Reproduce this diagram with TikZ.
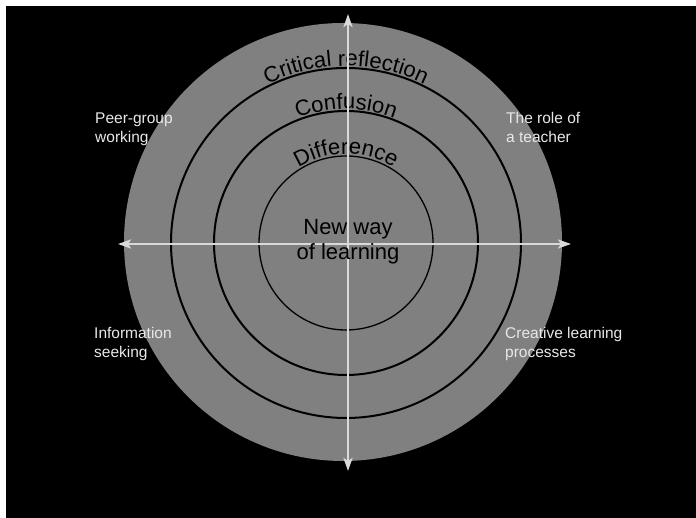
\documentclass[tikz,border=0pt]{standalone}
\usepackage{fontspec}
\setmainfont{Liberation Sans}
\usetikzlibrary{decorations.text, arrows.meta}
\definecolor{discgray}{HTML}{808080}
\definecolor{axisgray}{HTML}{D9D9D9}
\definecolor{labelwhite}{HTML}{E8E8E8}
\newcommand\myarcfont{\fontsize{22}{22}\selectfont}
\begin{document}
\begin{tikzpicture}[x=1pt,y=1pt,
  ring/.style={draw=black, line width=2pt},
  arclabel/.style={decorate, decoration={text along path, text format delimiters={|}{|},
      text={|\myarcfont|#1}, text align=center}},
  cornerlabel/.style={text=labelwhite, align=left, inner sep=0pt, anchor=north west,
      font=\fontsize{15.5}{19}\selectfont},
  centerlabel/.style={text=black, align=center, inner sep=0pt,
      font=\fontsize{22}{25}\selectfont},
  axis/.style={draw=axisgray, line width=2.5pt,
      {Stealth[length=13pt,width=9pt,inset=3pt]}-{Stealth[length=13pt,width=9pt,inset=3pt]}}
]
\useasboundingbox (0,0) rectangle (696,518);
\fill[white] (0,0) rectangle (696,518);
\fill[black] (6,0) rectangle (696,512);
\fill[discgray] (343,276) circle[radius=219];
\coordinate (c) at (346,275);
\draw[ring] (c) circle[radius=175];
\draw[ring] (c) circle[radius=132];
\draw[ring, line width=1.3pt] (c) circle[radius=87];
\path[arclabel={Critical reflection}] (c) ++(155:177) arc[start angle=155, end angle=25, radius=177];
\path[arclabel={Confusion}] (c) ++(155:134) arc[start angle=155, end angle=25, radius=134];
\path[arclabel={Difference}] (c) ++(155:89) arc[start angle=155, end angle=25, radius=89];
\coordinate (L) at (118,274);
\coordinate (R) at (571,274);
\coordinate (T) at (348,504);
\coordinate (B) at (348,47);
\draw[axis] (L) -- (R);
\draw[axis] (T) -- (B);
\node[centerlabel] (nw) at (348,276) {New way\\of learning};
\node[cornerlabel] (peer) at (95,405) {Peer-group\\working};
\node[cornerlabel] (teacher) at (506,406) {The role of\\a teacher};
\node[cornerlabel] (info) at (94,191) {Information\\seeking};
\node[cornerlabel] (creative) at (505,191) {Creative learning\\processes};
\end{tikzpicture}
\end{document}
